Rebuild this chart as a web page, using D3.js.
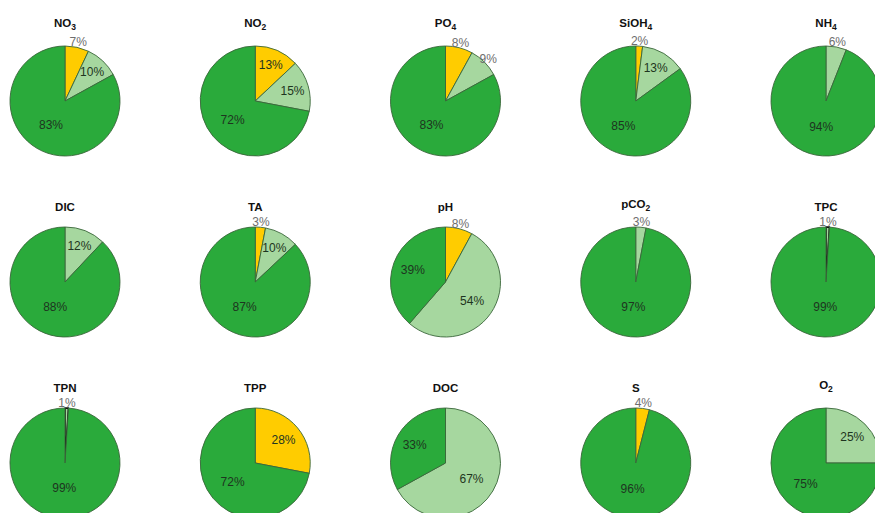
<!DOCTYPE html>
<html>
<head>
<meta charset="utf-8">
<script src="https://cdn.jsdelivr.net/npm/d3@7"></script>
<style>
  body { margin: 0; background: #fff; }
  svg { display: block; font-family: "Liberation Sans", Arial, sans-serif; }
</style>
</head>
<body>
<svg id="chart" width="875" height="513"></svg>
<script>
// pie titles (base text + subscript)
var titleBase = ["NO", "NO", "PO", "SiOH", "NH", "DIC", "TA", "pH", "pCO", "TPC", "TPN", "TPP", "DOC", "S", "O"];
var titleSub  = ["3", "2", "4", "4", "4", "", "", "", "2", "", "", "", "", "", "2"];

// percentages per pie, clockwise from 12 o'clock: yellow, light green, dark green
var yellowPct = [7, 13, 8, 2, 0, 0, 3, 8, 0, 0, 0, 28, 0, 4, 0];
var lightPct  = [10, 15, 9, 13, 6, 12, 10, 54, 3, 1, 1, 0, 67, 0, 25];
var darkPct   = [83, 72, 83, 85, 94, 88, 87, 39, 97, 99, 99, 72, 33, 96, 75];

var sliceColors = ["#ffcc00", "#a6d79f", "#2aaa3b"];

var svg = d3.select("#chart");
var R = 55;

var xPos = d3.scalePoint().domain(d3.range(5)).range([65, 826]);
var yPos = d3.scalePoint().domain(d3.range(3)).range([101, 463]);

var pie = d3.pie().sort(null).value(function(d) { return d.v; });
var arc = d3.arc().innerRadius(0).outerRadius(R);

titleBase.forEach(function(name, i) {
    var cx = xPos(i % 5), cy = yPos(Math.floor(i / 5));
    var g = svg.append("g").attr("transform", "translate(" + cx + "," + cy + ")");

    var slices = [
        {v: yellowPct[i], c: 0},
        {v: lightPct[i], c: 1},
        {v: darkPct[i], c: 2}
    ].filter(function(d) { return d.v > 0; });

    var arcs = pie(slices);

    g.selectAll("path")
        .data(arcs)
        .enter().append("path")
        .attr("d", arc)
        .attr("fill", function(d) { return sliceColors[d.data.c]; })
        .attr("stroke", function(d) { return d.data.v <= 1 ? "#111" : "#3a663a"; })
        .attr("stroke-width", function(d) { return d.data.v <= 1 ? 1.6 : 0.9; })
        .attr("stroke-linejoin", "round");

    g.selectAll("text.lbl")
        .data(arcs)
        .enter().append("text")
        .attr("class", "lbl")
        .attr("transform", function(d) {
            var a = (d.startAngle + d.endAngle) / 2;
            var p = d.data.v / 100;
            var r = d.data.v < 10 ? R * 1.1 : R * (0.45 + 0.3 * (1 - p));
            return "translate(" + (Math.sin(a) * r) + "," + (-Math.cos(a) * r) + ")";
        })
        .attr("text-anchor", "middle")
        .attr("dy", "0.36em")
        .attr("font-size", 12)
        .attr("fill", function(d) { return d.data.v < 10 ? "#6e6e6e" : "#1e3520"; })
        .text(function(d) { return d.data.v + "%"; });

    var t = g.append("text")
        .attr("x", 0)
        .attr("y", titleSub[i] ? -74 : -71)
        .attr("text-anchor", "middle")
        .attr("font-size", 11.5)
        .attr("font-weight", "bold")
        .attr("fill", "#111");
    t.append("tspan").text(name);
    if (titleSub[i]) {
        t.append("tspan").attr("dy", 3).attr("font-size", 8.5).text(titleSub[i]);
    }
});
</script>
</body>
</html>
